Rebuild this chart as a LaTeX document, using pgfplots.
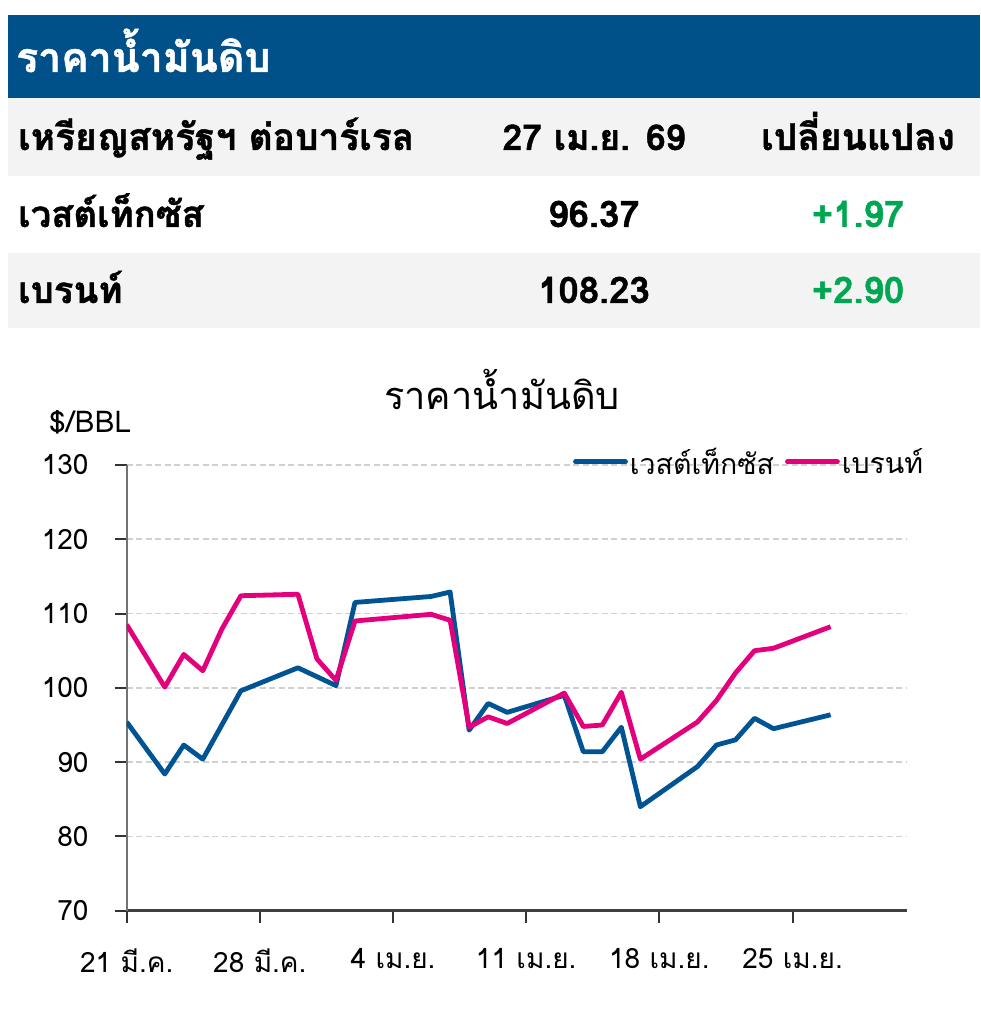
\documentclass[border=0pt]{standalone}
\usepackage{fontspec}
\usepackage{pgfplots}
\pgfplotsset{compat=1.18}
\newfontfamily\thai[Script=Thai]{Loma}
\newfontfamily\thaib[Script=Thai, BoldFeatures={FakeBold=1.2}]{Loma}
\definecolor{hdrblue}{RGB}{0,80,138}
\definecolor{wti}{RGB}{0,84,147}
\definecolor{brent}{RGB}{228,0,124}
\definecolor{upgreen}{RGB}{0,166,81}
\definecolor{rowgray}{RGB}{243,243,243}
\definecolor{gridgray}{RGB}{208,208,208}

\pgfplotstableread{
day val
0 95.4
2 88.4
3 92.3
4 90.4
5 95.0
6 99.6
9 102.7
10 101.5
11 100.3
12 111.5
16 112.3
17 112.9
18 94.3
19 97.9
20 96.7
23 99.0
24 91.4
25 91.4
26 94.7
27 84.0
30 89.4
31 92.3
32 93.0
33 95.9
34 94.5
37 96.37
}\wtitable

\pgfplotstableread{
day val
0 108.5
2 100.1
3 104.5
4 102.3
5 107.9
6 112.4
9 112.6
10 103.9
11 101.0
12 109.0
16 109.9
17 109.1
18 94.7
19 96.1
20 95.2
23 99.3
24 94.8
25 95.0
26 99.4
27 90.4
30 95.4
31 98.3
32 102.0
33 105.0
34 105.33
37 108.23
}\brenttable

\begin{document}
\begin{tikzpicture}[x=1pt,y=1pt]
\fill[white] (0,0) rectangle (980,1024);
% header table
\fill[hdrblue] (8,926) rectangle (980,1009);
\fill[rowgray] (8,848) rectangle (980,926);
\fill[rowgray] (8,696) rectangle (980,771);
\node[anchor=base west, inner sep=0pt, text=white] at (16,952) {\fontsize{41}{41}\thaib\bfseries ราคาน้ำมันดิบ};
\node[anchor=base west, inner sep=0pt] at (18,874) {\fontsize{37}{37}\thaib\bfseries เหรียญสหรัฐฯ ต่อบาร์เรล};
\node[anchor=base, inner sep=0pt] at (594,874) {\fontsize{35.5}{35.5}\thaib\bfseries 27 เม.ย. 69};
\node[anchor=base, inner sep=0pt] at (858,874) {\fontsize{37}{37}\thaib\bfseries เปลี่ยนแปลง};
\node[anchor=base west, inner sep=0pt] at (18,797) {\fontsize{36.5}{36.5}\thaib\bfseries เวสต์เท็กซัส};
\node[anchor=base, inner sep=0pt] at (594,797) {\fontsize{36.5}{36.5}\thaib\bfseries 96.37};
\node[anchor=base, inner sep=0pt, text=upgreen] at (858,797) {\fontsize{36.5}{36.5}\thaib\bfseries +1.97};
\node[anchor=base west, inner sep=0pt] at (18,721) {\fontsize{36.5}{36.5}\thaib\bfseries เบรนท์};
\node[anchor=base, inner sep=0pt] at (594,721) {\fontsize{36.5}{36.5}\thaib\bfseries 108.23};
\node[anchor=base, inner sep=0pt, text=upgreen] at (858,721) {\fontsize{36.5}{36.5}\thaib\bfseries +2.90};
% chart title and unit
\node[anchor=base, inner sep=0pt] at (502,614) {\fontsize{38}{38}\thai ราคาน้ำมันดิบ};
\node[anchor=base west, inner sep=0pt] at (49,591) {\fontsize{30}{30}\thai \$/BBL};
\begin{axis}[
  at={(126.7pt,113.3pt)}, anchor=south west,
  scale only axis, width=780pt, height=445.7pt,
  xmin=0, xmax=41, ymin=70, ymax=130,
  axis x line*=bottom, axis y line*=left,
  x axis line style={-, draw=black!75, line width=2.6pt},
  y axis line style={-, draw=black!55, line width=2.3pt},
  xtick={0,7,14,21,28,35},
  xticklabels={21 มี.ค., 28 มี.ค., 4 เม.ย., 11 เม.ย., 18 เม.ย., 25 เม.ย.},
  ytick={70,80,...,130},
  /pgf/number format/assume math mode=true,
  tick align=outside, major tick length=12pt,
  tick style={draw=black!80, line width=2pt},
  ymajorgrids, major grid style={draw=gridgray, line width=1.6pt, dash pattern=on 6pt off 3.5pt},
  ticklabel style={font=\fontsize{28}{28}\thai},
  yticklabel style={anchor=east, inner sep=0pt, xshift=-26pt},
  xticklabel style={anchor=north, inner sep=0pt, yshift=-26pt},
  legend style={at={(0.572,1.007)}, anchor=west, draw=none, fill=none, inner sep=0pt,
    legend columns=2, font=\fontsize{28.5}{28.5}\thai,
    nodes={inner sep=2pt},
    /tikz/every even column/.append style={column sep=9pt}},
  legend image code/.code={\draw[#1,line cap=round] (0pt,0pt) -- (50pt,0pt);},
  every axis plot/.append style={line width=4.8pt, line join=round},
]
\addplot[wti] table[x=day,y=val] {\wtitable};
\addlegendentry{เวสต์เท็กซัส}
\addplot[brent] table[x=day,y=val] {\brenttable};
\addlegendentry{เบรนท์}
\end{axis}
\end{tikzpicture}
\end{document}
